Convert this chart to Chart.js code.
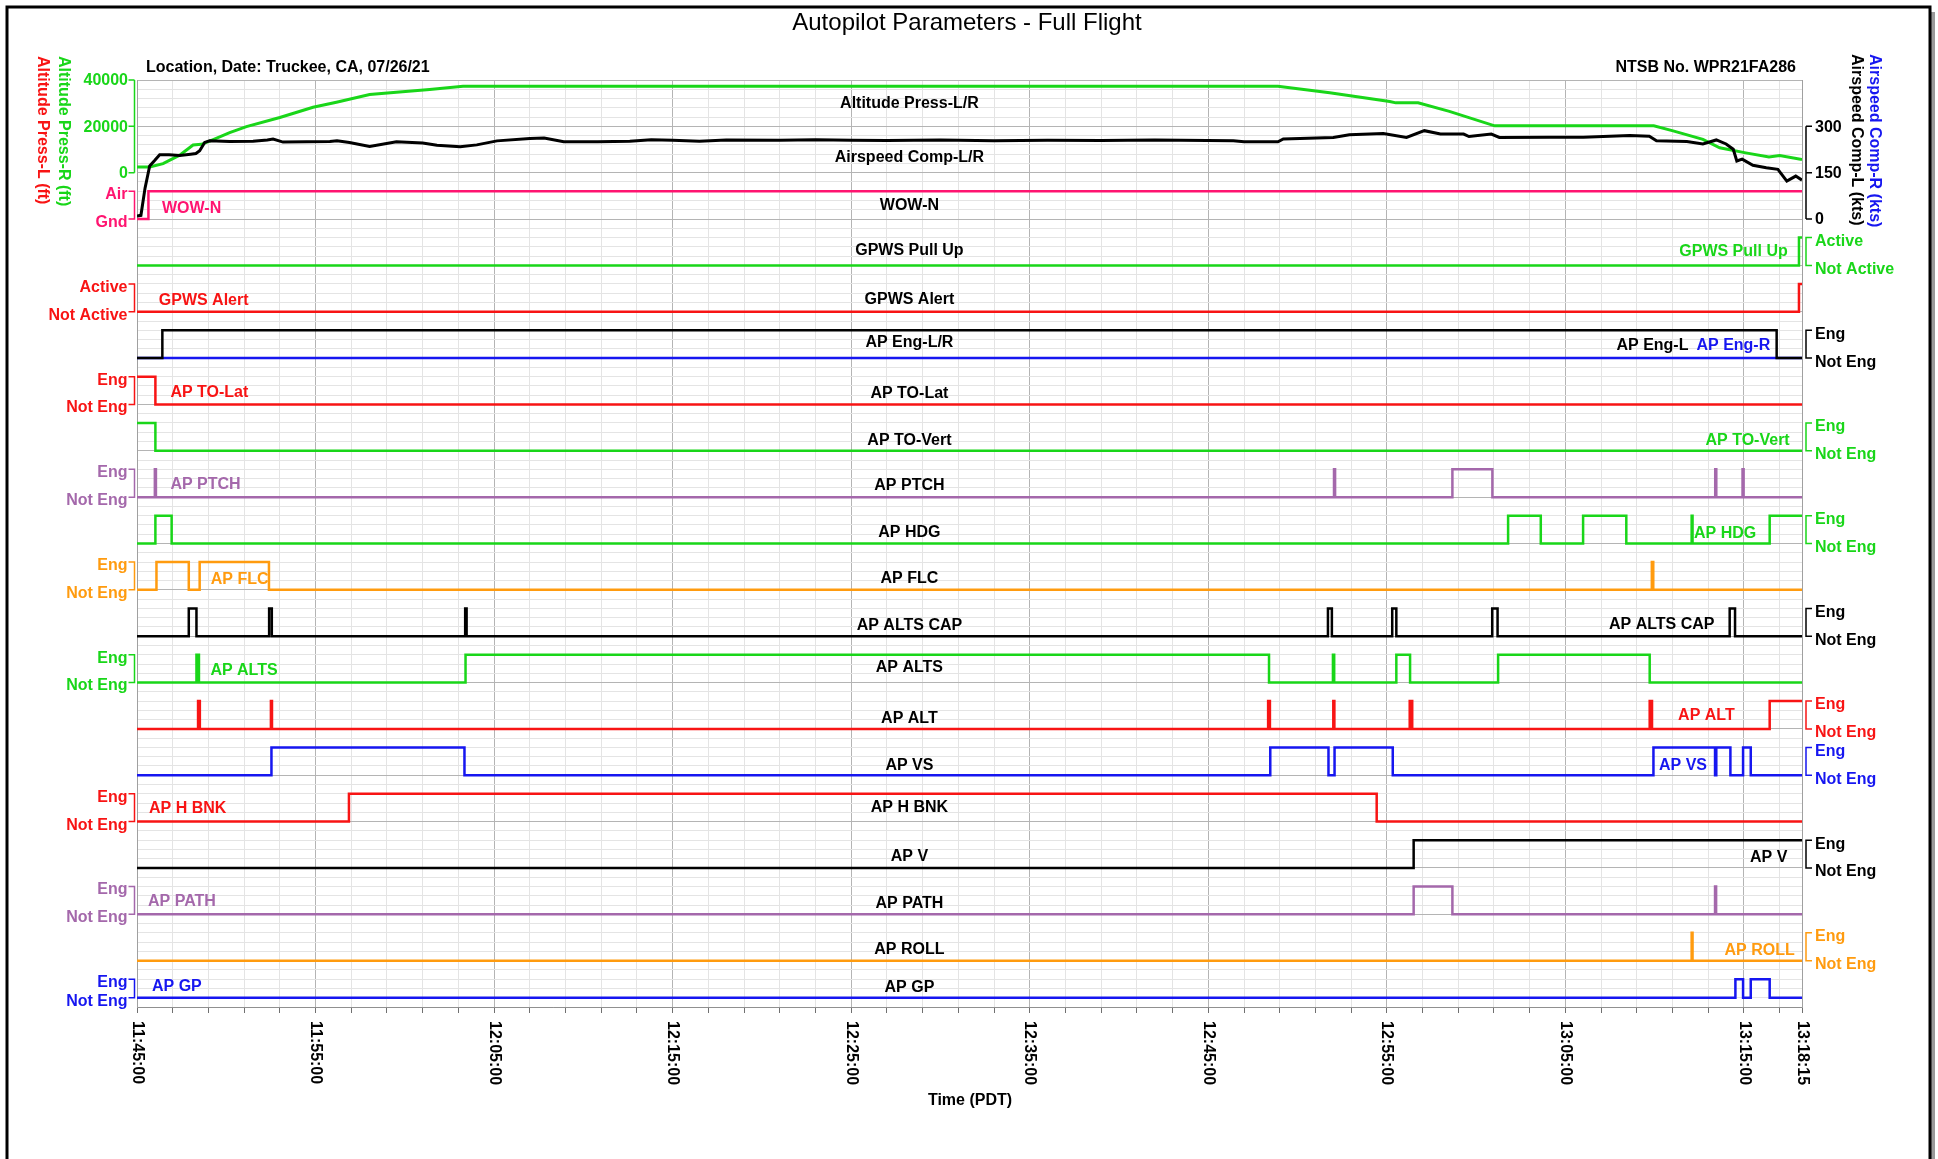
<!DOCTYPE html>
<html>
<head>
<meta charset="utf-8">
<title>Autopilot Parameters - Full Flight</title>
<script src="https://cdn.jsdelivr.net/npm/chart.js@4.4.1/dist/chart.umd.min.js"></script>
<style>
  html, body { margin: 0; padding: 0; background: #fff; }
  canvas { display: block; }
</style>
</head>
<body>
<canvas id="chart" width="1938" height="1159"></canvas>
<script>
// time axis: minutes after 11:45:00 (end = 13:18:15)
const timeMax = 93.25;
const timeTickValues = [0, 10, 20, 30, 40, 50, 60, 70, 80, 90, 93.25];
const timeTickLabels = ["11:45:00", "11:55:00", "12:05:00", "12:15:00", "12:25:00", "12:35:00",
  "12:45:00", "12:55:00", "13:05:00", "13:15:00", "13:18:15"];
const altTickValues = [0, 20000, 40000];
const spdTickValues = [0, 150, 300];

// Altitude Press (ft)
const altTime = [0, 0.71, 1.46, 2.39, 3.14, 3.6, 4.07, 5.19, 6.13, 8.0, 9.86, 11.17, 13.03, 14.53, 16.39, 18.26,
  63.9, 66.8, 70.16, 70.5, 71.75, 73.5, 76.04, 84.95, 86.03, 87.7, 88.64, 90.1, 91.4, 92.0, 93.25];
const altFeet = [2450, 2450, 3930, 7550, 11920, 12230, 13670, 17290, 19910, 23840, 28210, 30390, 33760, 34760, 35940, 37250,
  37250, 34500, 30700, 30130, 30130, 26460, 20220, 20220, 18040, 14400, 10740, 8560, 6810, 7420, 5680];

// Airspeed Comp (kts)
const spdTime = [0, 0.22, 0.45, 0.71, 1.0, 1.27, 1.8, 2.39, 3.0, 3.3, 3.51, 3.79, 4.07, 5.19, 6.5, 7.3, 7.62, 8.18, 9.5, 10.8,
  11.2, 11.9, 13.03, 14.53, 16.0, 16.8, 18.1, 19.03, 20.16, 22.0, 22.8, 23.9, 25.8, 27.6, 28.8, 30, 31.5, 33, 36, 38,
  40, 42, 45, 48, 51, 54, 57, 61.4, 62, 63.9, 64.2, 67, 67.9, 69.8, 71.1, 72.1, 73, 74.3, 74.6, 75.85,
  76.3, 79.1, 81, 83.6, 84.7, 85.1, 86.8, 87.7, 88.45, 89, 89.4, 89.6, 89.9, 90.5, 91.25, 91.9, 92.4, 92.9, 93.25];
const spdKts = [10, 12, 100, 172, 190, 208, 208, 206, 210, 212, 221, 248, 253, 251, 252, 256, 259, 249, 250, 251,
  253, 248, 235, 250, 246, 239, 234, 240, 253, 261, 262, 250, 250, 252, 257, 255, 252, 256, 255, 257,
  255, 254, 256, 253, 255, 254, 256, 253, 250, 250, 259, 264, 273, 277, 264, 286, 275, 275, 267, 275,
  264, 265, 265, 270, 268, 253, 251, 243, 256, 243, 226, 188, 194, 174, 166, 161, 123, 139, 126];

// discrete parameters: [minute, state] - state holds until the next entry
const wowN = [[0, 0], [0.64, 1], [93.25, 1]];
const gpwsPullUp = [[0, 0], [93.08, 1], [93.25, 1]];
const gpwsAlert = [[0, 0], [93.08, 1], [93.25, 1]];
const apEngL = [[0, 0], [1.42, 1], [91.83, 0], [93.25, 0]];
const apEngR = [[0, 0], [93.25, 0]];
const apToLat = [[0, 1], [1.03, 0], [93.25, 0]];
const apToVert = [[0, 1], [1.03, 0], [93.25, 0]];
const apPtch = [[0, 0], [1.0, 1], [1.06, 0], [67.04, 1], [67.1, 0], [73.67, 1], [75.91, 0],
  [88.39, 1], [88.45, 0], [89.92, 1], [89.98, 0], [93.25, 0]];
const apHdg = [[0, 0], [1.03, 1], [1.94, 0], [76.79, 1], [78.62, 0], [80.99, 1], [83.41, 0],
  [87.07, 1], [87.12, 0], [91.44, 1], [93.25, 1]];
const apFlc = [[0, 0], [1.09, 1], [2.9, 0], [3.51, 1], [7.39, 0], [84.84, 1], [84.92, 0], [93.25, 0]];
const apAltsCap = [[0, 0], [2.9, 1], [3.33, 0], [7.4, 1], [7.55, 0], [18.38, 1], [18.46, 0], [66.7, 1], [66.92, 0],
  [70.3, 1], [70.53, 0], [75.9, 1], [76.2, 0], [89.2, 1], [89.5, 0], [93.25, 0]];
const apAlts = [[0, 0], [3.33, 1], [3.47, 0], [18.4, 1], [63.4, 0], [66.98, 1], [67.05, 0], [70.53, 1], [71.3, 0],
  [76.23, 1], [84.72, 0], [93.25, 0]];
const apAlt = [[0, 0], [3.42, 1], [3.52, 0], [7.5, 1], [7.56, 0], [63.35, 1], [63.45, 0], [67.0, 1], [67.06, 0],
  [71.28, 1], [71.42, 0], [84.72, 1], [84.85, 0], [91.44, 1], [93.25, 1]];
const apVs = [[0, 0], [7.53, 1], [18.34, 0], [63.47, 1], [66.73, 0], [67.07, 1], [70.33, 0], [84.93, 1], [88.38, 0],
  [88.45, 1], [89.24, 0], [89.95, 1], [90.38, 0], [93.25, 0]];
const apHBnk = [[0, 0], [11.87, 1], [69.43, 0], [93.25, 0]];
const apV = [[0, 0], [71.5, 1], [93.25, 1]];
const apPath = [[0, 0], [71.5, 1], [73.67, 0], [88.38, 1], [88.44, 0], [93.25, 0]];
const apRoll = [[0, 0], [87.07, 1], [87.12, 0], [93.25, 0]];
const apGp = [[0, 0], [89.52, 1], [89.95, 0], [90.38, 1], [91.44, 0], [93.25, 0]];

const GREEN = "#19d619", RED = "#f81414", PINK = "#ff1470", PURPLE = "#a468ab",
  ORANGE = "#ff9b0f", BLUE = "#1616f0", BLACK = "#000000";
const MAJOR = "#b4b4b4", MINOR = "#e4e4e4";
const FONT = '"Liberation Sans", Arial, sans-serif';
const BOLD = "bold 16px " + FONT;
const CENTER_X = 43.26; // minute where the track names sit

// track layout (y units: one major grid row each)
const tracks = [
  { name: "WOW-N", base: 17, amp: 0.6, side: "L", hi: "Air", lo: "Gnd", color: PINK, ny: 17.30,
    series: [{ data: wowN, color: PINK }], tags: [{ text: "WOW-N", x: 1.40, y: 17.23, color: PINK }] },
  { name: "GPWS Pull Up", base: 16, amp: 0.6, side: "R", hi: "Active", lo: "Not Active", color: GREEN, ny: 16.33,
    series: [{ data: gpwsPullUp, color: GREEN }], tags: [{ text: "GPWS Pull Up", x: 92.45, y: 16.30, color: GREEN, align: "right" }] },
  { name: "GPWS Alert", base: 15, amp: 0.6, side: "L", hi: "Active", lo: "Not Active", color: RED, ny: 15.27,
    series: [{ data: gpwsAlert, color: RED }], tags: [{ text: "GPWS Alert", x: 1.22, y: 15.25, color: RED }] },
  { name: "AP Eng-L/R", base: 14, amp: 0.6, side: "R", hi: "Eng", lo: "Not Eng", color: BLACK, ny: 14.33,
    series: [{ data: apEngL, color: BLACK }, { data: apEngR, color: BLUE }],
    tags: [{ text: "AP Eng-L", x: 82.86, y: 14.26, color: BLACK }, { text: "AP Eng-R", x: 87.34, y: 14.26, color: BLUE }] },
  { name: "AP TO-Lat", base: 13, amp: 0.6, side: "L", hi: "Eng", lo: "Not Eng", color: RED, ny: 13.24,
    series: [{ data: apToLat, color: RED }], tags: [{ text: "AP TO-Lat", x: 1.87, y: 13.25, color: RED }] },
  { name: "AP TO-Vert", base: 12, amp: 0.6, side: "R", hi: "Eng", lo: "Not Eng", color: GREEN, ny: 12.23,
    series: [{ data: apToVert, color: GREEN }], tags: [{ text: "AP TO-Vert", x: 92.56, y: 12.23, color: GREEN, align: "right" }] },
  { name: "AP PTCH", base: 11, amp: 0.6, side: "L", hi: "Eng", lo: "Not Eng", color: PURPLE, ny: 11.24,
    series: [{ data: apPtch, color: PURPLE }], tags: [{ text: "AP PTCH", x: 1.87, y: 11.27, color: PURPLE }] },
  { name: "AP HDG", base: 10, amp: 0.6, side: "R", hi: "Eng", lo: "Not Eng", color: GREEN, ny: 10.23,
    series: [{ data: apHdg, color: GREEN }], tags: [{ text: "AP HDG", x: 87.2, y: 10.21, color: GREEN }] },
  { name: "AP FLC", base: 9, amp: 0.6, side: "L", hi: "Eng", lo: "Not Eng", color: ORANGE, ny: 9.24,
    series: [{ data: apFlc, color: ORANGE }], tags: [{ text: "AP FLC", x: 4.13, y: 9.23, color: ORANGE }] },
  { name: "AP ALTS CAP", base: 8, amp: 0.6, side: "R", hi: "Eng", lo: "Not Eng", color: BLACK, ny: 8.23,
    series: [{ data: apAltsCap, color: BLACK }], tags: [{ text: "AP ALTS CAP", x: 82.44, y: 8.26, color: BLACK }] },
  { name: "AP ALTS", base: 7, amp: 0.6, side: "L", hi: "Eng", lo: "Not Eng", color: GREEN, ny: 7.32,
    series: [{ data: apAlts, color: GREEN }], tags: [{ text: "AP ALTS", x: 4.11, y: 7.25, color: GREEN }] },
  { name: "AP ALT", base: 6, amp: 0.6, side: "R", hi: "Eng", lo: "Not Eng", color: RED, ny: 6.23,
    series: [{ data: apAlt, color: RED }], tags: [{ text: "AP ALT", x: 86.31, y: 6.29, color: RED }] },
  { name: "AP VS", base: 5, amp: 0.6, side: "R", hi: "Eng", lo: "Not Eng", color: BLUE, ny: 5.21,
    series: [{ data: apVs, color: BLUE }], tags: [{ text: "AP VS", x: 85.24, y: 5.21, color: BLUE }] },
  { name: "AP H BNK", base: 4, amp: 0.6, side: "L", hi: "Eng", lo: "Not Eng", color: RED, ny: 4.31,
    series: [{ data: apHBnk, color: RED }], tags: [{ text: "AP H BNK", x: 0.67, y: 4.29, color: RED }] },
  { name: "AP V", base: 3, amp: 0.6, side: "R", hi: "Eng", lo: "Not Eng", color: BLACK, ny: 3.24,
    series: [{ data: apV, color: BLACK }], tags: [{ text: "AP V", x: 92.43, y: 3.22, color: BLACK, align: "right" }] },
  { name: "AP PATH", base: 2, amp: 0.6, side: "L", hi: "Eng", lo: "Not Eng", color: PURPLE, ny: 2.23,
    series: [{ data: apPath, color: PURPLE }], tags: [{ text: "AP PATH", x: 0.62, y: 2.27, color: PURPLE }] },
  { name: "AP ROLL", base: 1, amp: 0.6, side: "R", hi: "Eng", lo: "Not Eng", color: ORANGE, ny: 1.24,
    series: [{ data: apRoll, color: ORANGE }], tags: [{ text: "AP ROLL", x: 92.84, y: 1.22, color: ORANGE, align: "right" }] },
  { name: "AP GP", base: 0.2, amp: 0.4, side: "L", hi: "Eng", lo: "Not Eng", color: BLUE, ny: 0.41,
    series: [{ data: apGp, color: BLUE }], tags: [{ text: "AP GP", x: 0.84, y: 0.45, color: BLUE }] }
];

const datasets = [
  { label: "Airspeed Comp-L", yAxisID: "ySpd", borderColor: BLACK, borderWidth: 3,
    data: spdTime.map((t, i) => ({ x: t, y: spdKts[i] })) },
  { label: "Altitude Press-R", yAxisID: "yAlt", borderColor: GREEN, borderWidth: 3,
    data: altTime.map((t, i) => ({ x: t, y: altFeet[i] })) }
];
tracks.forEach((tr) => {
  tr.series.forEach((s) => {
    datasets.push({
      label: tr.name, yAxisID: "y", borderColor: s.color, borderWidth: 2.5, stepped: true,
      data: s.data.map(([t, v]) => ({ x: t, y: tr.base + v * tr.amp }))
    });
  });
});

function drawText(ctx, text, x, y, color, align, font) {
  ctx.font = font || BOLD;
  ctx.fillStyle = color;
  ctx.textAlign = align || "left";
  ctx.textBaseline = "middle";
  ctx.fillText(text, x, y);
}

// text turned 90 degrees clockwise, reading top to bottom
function drawDown(ctx, text, x, y, color, font) {
  ctx.save();
  ctx.translate(x, y);
  ctx.rotate(Math.PI / 2);
  drawText(ctx, text, 0, 0, color, "left", font);
  ctx.restore();
}

const isMajor = (v, step) => Math.abs(v / step - Math.round(v / step)) < 1e-6;

const annotations = {
  id: "annotations",
  afterDraw(chart) {
    const { ctx, chartArea: a } = chart;
    const { x, y, yAlt, ySpd } = chart.scales;
    ctx.save();

    drawText(ctx, "Autopilot Parameters - Full Flight", 967, 23, BLACK, "center", "24px " + FONT);
    drawText(ctx, "Location, Date: Truckee, CA, 07/26/21", 146, 68, BLACK, "left");
    drawText(ctx, "NTSB No. WPR21FA286", 1796, 68, BLACK, "right");

    drawDown(ctx, "Altitude Press-L (ft)", 42, 56, RED);
    drawDown(ctx, "Altitude Press-R (ft)", 63, 56, GREEN);
    drawDown(ctx, "Airspeed Comp-L (kts)", 1856, 54, BLACK);
    drawDown(ctx, "Airspeed Comp-R (kts)", 1874, 54, BLUE);

    // altitude axis (left) and airspeed axis (right) of the top panel
    ctx.lineWidth = 1.5;
    const lx = a.left - 2.5;
    ctx.strokeStyle = GREEN;
    ctx.beginPath();
    ctx.moveTo(lx, yAlt.getPixelForValue(40000));
    ctx.lineTo(lx, yAlt.getPixelForValue(0));
    altTickValues.forEach((v) => {
      const py = yAlt.getPixelForValue(v);
      ctx.moveTo(lx, py);
      ctx.lineTo(lx - 6, py);
    });
    ctx.stroke();
    altTickValues.forEach((v) => drawText(ctx, String(v), a.left - 9, yAlt.getPixelForValue(v) + 1, GREEN, "right"));

    const rx = a.right + 4;
    ctx.strokeStyle = BLACK;
    ctx.beginPath();
    ctx.moveTo(rx, ySpd.getPixelForValue(300));
    ctx.lineTo(rx, ySpd.getPixelForValue(0));
    spdTickValues.forEach((v) => {
      const py = ySpd.getPixelForValue(v);
      ctx.moveTo(rx, py);
      ctx.lineTo(rx + 6, py);
    });
    ctx.stroke();
    spdTickValues.forEach((v) => drawText(ctx, String(v), a.right + 13, ySpd.getPixelForValue(v) + 1, BLACK, "left"));

    drawText(ctx, "Altitude Press-L/R", x.getPixelForValue(CENTER_X), y.getPixelForValue(19.5), BLACK, "center");
    drawText(ctx, "Airspeed Comp-L/R", x.getPixelForValue(CENTER_X), y.getPixelForValue(18.32), BLACK, "center");

    tracks.forEach((tr) => {
      const hiY = y.getPixelForValue(tr.base + tr.amp);
      const loY = y.getPixelForValue(tr.base);
      ctx.strokeStyle = tr.color;
      ctx.lineWidth = 1.5;
      ctx.beginPath();
      if (tr.side === "L") {
        const bx = a.left - 2.5;
        ctx.moveTo(bx - 6, hiY); ctx.lineTo(bx, hiY); ctx.lineTo(bx, loY); ctx.lineTo(bx - 6, loY);
        ctx.stroke();
        drawText(ctx, tr.hi, a.left - 9.5, hiY + 3.5, tr.color, "right");
        drawText(ctx, tr.lo, a.left - 9.5, loY + 3.5, tr.color, "right");
      } else {
        const bx = a.right + 4;
        ctx.moveTo(bx + 6, hiY); ctx.lineTo(bx, hiY); ctx.lineTo(bx, loY); ctx.lineTo(bx + 6, loY);
        ctx.stroke();
        drawText(ctx, tr.hi, a.right + 13, hiY + 4, tr.color, "left");
        drawText(ctx, tr.lo, a.right + 13, loY + 4, tr.color, "left");
      }
      drawText(ctx, tr.name, x.getPixelForValue(CENTER_X), y.getPixelForValue(tr.ny), BLACK, "center");
      tr.tags.forEach((g) => {
        drawText(ctx, g.text, x.getPixelForValue(g.x), y.getPixelForValue(g.y), g.color, g.align || "left");
      });
    });

    timeTickValues.forEach((v, i) => {
      drawDown(ctx, timeTickLabels[i], x.getPixelForValue(v), a.bottom + 14, BLACK);
    });
    drawText(ctx, "Time (PDT)", 970, 1101, BLACK, "center");

    // outer frame
    ctx.fillStyle = "#9a9a9a";
    ctx.fillRect(1931, 12, 4, 1150);
    ctx.strokeStyle = BLACK;
    ctx.lineWidth = 3;
    ctx.strokeRect(7, 7, 1923, 1160);
    ctx.restore();
  }
};

new Chart(document.getElementById("chart").getContext("2d"), {
  type: "line",
  data: { datasets },
  options: {
    responsive: false,
    devicePixelRatio: 1,
    animation: false,
    events: [],
    layout: { padding: { top: 80, left: 0, right: 0, bottom: 0 } },
    elements: {
      point: { radius: 0 },
      line: { fill: false, tension: 0, borderJoinStyle: "miter" }
    },
    plugins: { legend: { display: false }, tooltip: { enabled: false }, title: { display: false } },
    scales: {
      x: {
        type: "linear",
        min: 0,
        max: timeMax,
        afterBuildTicks: (s) => {
          const t = [];
          for (let m = 0; m <= 92; m += 2) t.push({ value: m });
          t.push({ value: timeMax });
          s.ticks = t;
        },
        afterFit: (s) => { s.height = 152; },
        grid: {
          color: (c) => (isMajor(c.tick.value, 10) || c.tick.value === timeMax ? MAJOR : MINOR),
          tickColor: "#707070",
          tickLength: 6,
          lineWidth: 1
        },
        border: { display: true, color: "#909090" },
        ticks: { display: false }
      },
      y: {
        type: "linear",
        position: "left",
        min: 0,
        max: 20,
        afterBuildTicks: (s) => {
          const t = [];
          for (let i = 0; i <= 100; i++) t.push({ value: i / 5 });
          s.ticks = t;
        },
        afterFit: (s) => { s.width = 137; },
        grid: {
          color: (c) => (isMajor(c.tick.value, 1) ? MAJOR : MINOR),
          drawTicks: false,
          lineWidth: 1
        },
        border: { display: true, color: "#a0a0a0" },
        ticks: { display: false }
      },
      y2: {
        type: "linear",
        position: "right",
        min: 0,
        max: 20,
        afterFit: (s) => { s.width = 136; },
        grid: { display: false, drawTicks: false },
        border: { display: true, color: "#a0a0a0" },
        ticks: { display: false }
      },
      yAlt: { type: "linear", display: false, min: -360000, max: 40000 },
      ySpd: { type: "linear", display: false, min: -2550, max: 450 }
    }
  },
  plugins: [annotations]
});
</script>
</body>
</html>
